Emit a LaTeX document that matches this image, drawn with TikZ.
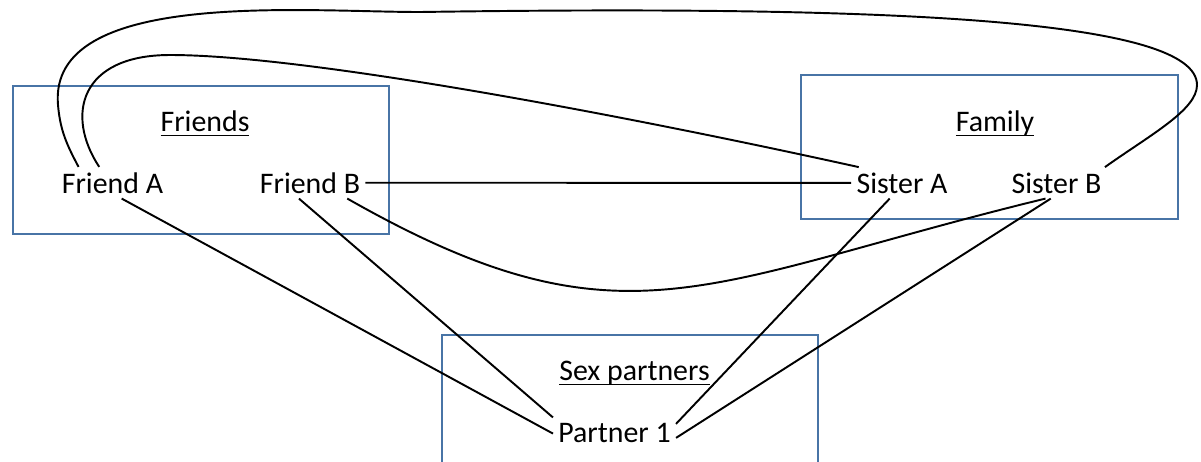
\documentclass[tikz,border=0pt]{standalone}
\usepackage{fontspec}
\setmainfont{Carlito}
\usepackage{tikz}
\newcommand{\ulword}[1]{\setbox0\hbox{#1}\rlap{\rule[-3pt]{\wd0}{1pt}}\box0}
\definecolor{boxblue}{RGB}{72,116,166}
\tikzstyle{person}=[inner sep=0.1cm,anchor=base,
                    font=\fontsize{17}{20}\selectfont]
\tikzstyle{grouptitle}=[inner sep=0pt,anchor=base,
                        font=\fontsize{17}{20}\selectfont]
\tikzstyle{groupbox}=[draw=boxblue,line width=1.3pt]
\tikzstyle{tie}=[draw=black,line width=1.1pt]

\begin{document}
\begin{tikzpicture}[x=0.02cm,y=-0.02cm]
    \clip (0,0) rectangle (1201,461);
    % groups
    \draw[groupbox] (13,86) rectangle (389,234);
    \draw[groupbox] (801,75) rectangle (1178,219);
    \draw[groupbox] (442,335) rectangle (818,480);
    \node (friends) at (205,131) [grouptitle]{\ulword{Friends}};
    \node (family) at (995,131) [grouptitle]{\ulword{Family}};
    \node (partners) at (634.5,380) [grouptitle]{\ulword{Sex partners}};
    % people
    \node (fa) at (112.5,193) [person]{Friend A};
    \node (fb) at (310,193) [person]{Friend B};
    \node (sa) at (902,193) [person]{Sister A};
    \node (sb) at (1056.5,193) [person]{Sister B};
    \node (p1) at (614.5,442) [person]{Partner 1};
    % ties
    \draw[tie] (fa.155) to[out=118,in=-85] (58,105)
        to[out=95,in=180,looseness=0.8] (420,12)
        .. controls (900,5) and (1197,20) .. (1197,85)
        .. controls (1197,110) and (1150,135) .. (sb.18);
    \draw[tie] (fa.130) .. controls (65,115) and (80,55) .. (170,55)
        .. controls (300,55) and (600,110) .. (sa.160);
    \draw[tie] (fb.east) -- (sa.west);
    \draw[tie] (fb.-23) .. controls (624,356) and (702,282) .. (sb.-125);
    \draw[tie] (fa.-60) -- (p1.181);
    \draw[tie] (fb.-125) -- (p1.north west);
    \draw[tie] (sa.-128) -- (p1.8);
    \draw[tie] (sb.-110) -- (p1.-5);
\end{tikzpicture}
\end{document}
